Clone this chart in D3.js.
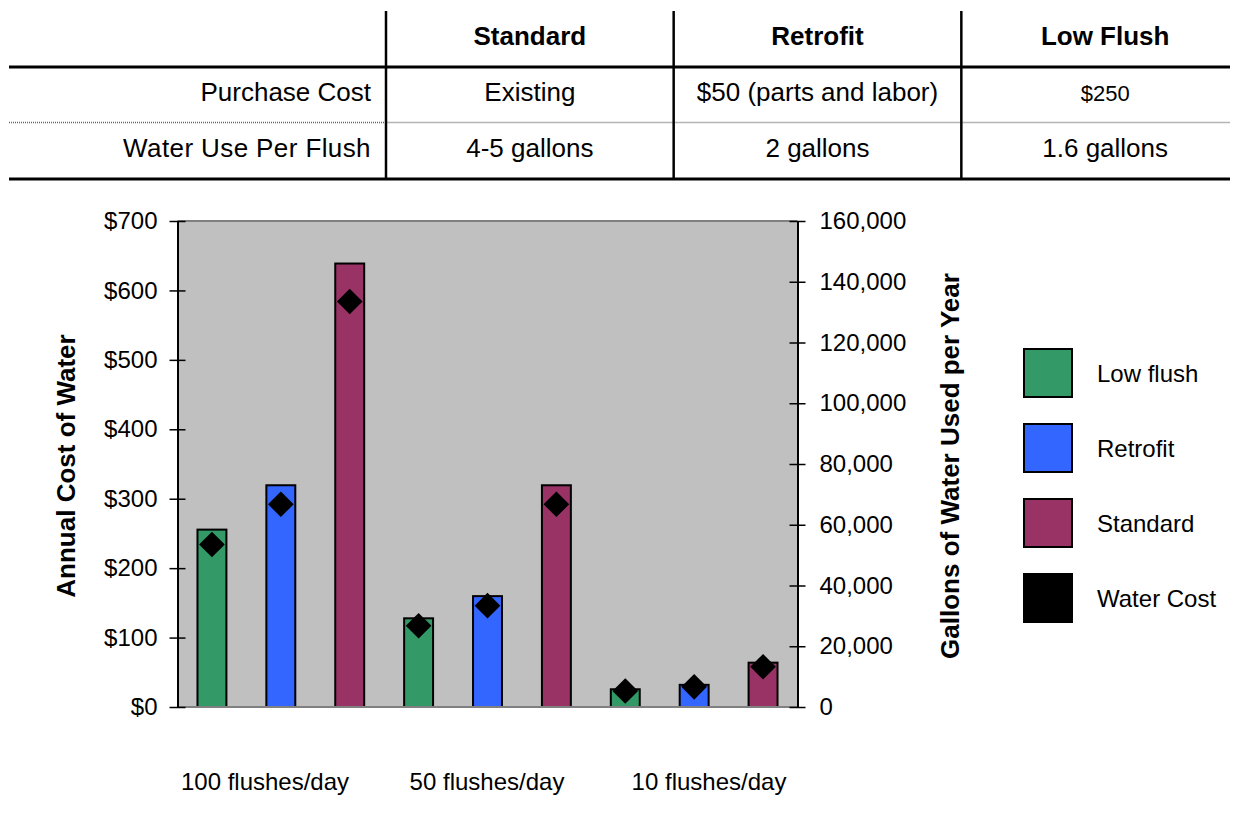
<!DOCTYPE html>
<meta charset="utf-8">
<style>
body { margin: 0; background: #fff; }
text { font-family: "Liberation Sans", Arial, sans-serif; fill: #000; }
.tbl { font-size: 26px; }
.hdr { font-size: 26px; font-weight: bold; }
.tick text { font-size: 24px; font-family: "Liberation Sans", Arial, sans-serif; }
.atitle { font-size: 26px; font-weight: bold; }
.cat, .leg { font-size: 24px; }
</style>
<svg width="1239" height="814"></svg>
<script src="https://d3js.org/d3.v7.min.js"></script>
<script>
// table
var tableCols = ["Standard", "Retrofit", "Low Flush"];
var rowLabels = ["Purchase Cost", "Water Use Per Flush"];
var purchaseCost = ["Existing", "$50 (parts and labor)", "$250"];
var waterPerFlush = ["4-5 gallons", "2 gallons", "1.6 gallons"];

// chart
var categories = ["100 flushes/day", "50 flushes/day", "10 flushes/day"];
var series = ["Low flush", "Retrofit", "Standard"];
var colors = ["#339966", "#3366ff", "#993366"];
// gallons of water used per year (bars, right axis)
var lowFlushGallons = [58400, 29200, 5840];
var retrofitGallons = [73000, 36500, 7300];
var standardGallons = [146000, 73000, 14600];
// annual water cost (diamonds, left axis)
var lowFlushCost = [234, 117, 23];
var retrofitCost = [292, 146, 29];
var standardCost = [584, 292, 58];
var leftTicks = [0, 100, 200, 300, 400, 500, 600, 700];
var rightTicks = [0, 20000, 40000, 60000, 80000, 100000, 120000, 140000, 160000];

var gallons = [lowFlushGallons, retrofitGallons, standardGallons];
var costs = [lowFlushCost, retrofitCost, standardCost];

var svg = d3.select("svg");

// ---------- table ----------
var colX = d3.scaleBand().domain(tableCols).range([386, 1249]);
var tbl = svg.append("g");

tbl.append("line").attr("x1", 9).attr("x2", 1230).attr("y1", 67).attr("y2", 67)
  .attr("stroke", "#000").attr("stroke-width", 3);
tbl.append("line").attr("x1", 9).attr("x2", 1230).attr("y1", 179).attr("y2", 179)
  .attr("stroke", "#000").attr("stroke-width", 3);
tbl.append("line").attr("x1", 9).attr("x2", 386).attr("y1", 122.5).attr("y2", 122.5)
  .attr("stroke", "#666").attr("stroke-width", 1.5).attr("stroke-dasharray", "1,1");
tbl.append("line").attr("x1", 386).attr("x2", 1230).attr("y1", 122.5).attr("y2", 122.5)
  .attr("stroke", "#b4b4b4").attr("stroke-width", 1.5);

tbl.selectAll(".vline")
  .data(tableCols)
  .enter().append("line")
  .attr("x1", function(d) { return colX(d); })
  .attr("x2", function(d) { return colX(d); })
  .attr("y1", 11).attr("y2", 179)
  .attr("stroke", "#000").attr("stroke-width", 2.5);

tbl.selectAll(".hdr")
  .data(tableCols)
  .enter().append("text")
  .attr("class", "hdr")
  .attr("text-anchor", "middle")
  .attr("x", function(d) { return colX(d) + colX.bandwidth() / 2; })
  .attr("y", 45)
  .text(function(d) { return d; });

var rowY = [101, 157];
tbl.selectAll(".rlab")
  .data(rowLabels)
  .enter().append("text")
  .attr("class", "tbl")
  .attr("text-anchor", "end")
  .attr("x", 371)
  .attr("y", function(d, i) { return rowY[i]; })
  .style("letter-spacing", function(d, i) { return i == 1 ? "0.4px" : null; })
  .text(function(d) { return d; });

[purchaseCost, waterPerFlush].forEach(function(row, r) {
  tbl.selectAll(".cell" + r)
    .data(row)
    .enter().append("text")
    .attr("class", "tbl")
    .attr("text-anchor", "middle")
    .style("font-size", function(d) { return d == "$250" ? "22px" : null; })
    .attr("x", function(d, i) { return colX(tableCols[i]) + colX.bandwidth() / 2; })
    .attr("y", rowY[r])
    .text(function(d) { return d; });
});

// ---------- chart ----------
var pLeft = 177.5, pRight = 797.5, pTop = 221, pBottom = 707;

var x0 = d3.scaleBand().domain(categories).range([pLeft, pRight]);
var x1 = d3.scaleBand().domain(series).range([0, x0.bandwidth()])
  .paddingInner(0.58).paddingOuter(0.29);
var yCost = d3.scaleLinear().domain([0, 700]).range([pBottom, pTop]);
var yGal = d3.scaleLinear().domain([0, 160000]).range([pBottom, pTop]);

svg.append("rect")
  .attr("x", pLeft).attr("y", pTop)
  .attr("width", pRight - pLeft).attr("height", pBottom - pTop)
  .attr("fill", "#c0c0c0");
svg.append("line").attr("x1", pLeft).attr("x2", pRight).attr("y1", pTop).attr("y2", pTop)
  .attr("stroke", "#808080").attr("stroke-width", 2);

var groups = svg.selectAll(".grp")
  .data(categories)
  .enter().append("g")
  .attr("transform", function(d) { return "translate(" + x0(d) + ",0)"; });

groups.selectAll("rect")
  .data(function(d, ci) {
    return series.map(function(s, si) { return { s: s, si: si, v: gallons[si][ci] }; });
  })
  .enter().append("rect")
  .attr("x", function(d) { return x1(d.s); })
  .attr("y", function(d) { return yGal(d.v); })
  .attr("width", x1.bandwidth())
  .attr("height", function(d) { return pBottom - yGal(d.v); })
  .attr("fill", function(d) { return colors[d.si]; })
  .attr("stroke", "#000")
  .attr("stroke-width", 2);

svg.append("line").attr("x1", pLeft).attr("x2", pRight).attr("y1", pBottom).attr("y2", pBottom)
  .attr("stroke", "#808080").attr("stroke-width", 2);

var diamond = d3.symbol().type(d3.symbolDiamond2).size(420);
groups.selectAll("path.dia")
  .data(function(d, ci) {
    return series.map(function(s, si) { return { s: s, v: costs[si][ci] }; });
  })
  .enter().append("path")
  .attr("class", "dia")
  .attr("d", diamond)
  .attr("transform", function(d) {
    return "translate(" + (x1(d.s) + x1.bandwidth() / 2) + "," + yCost(d.v) + ")";
  })
  .attr("fill", "#000");

// axes
var axL = svg.append("g")
  .attr("transform", "translate(" + pLeft + ",0)")
  .call(d3.axisLeft(yCost).tickValues(leftTicks).tickSizeInner(8).tickSizeOuter(0)
    .tickPadding(12).tickFormat(function(d) { return "$" + d; }));
axL.selectAll(".tick line").attr("x1", 8).attr("stroke-width", 1.5);
axL.select(".domain").attr("stroke-width", 2);

var axR = svg.append("g")
  .attr("transform", "translate(" + pRight + ",0)")
  .call(d3.axisRight(yGal).tickValues(rightTicks).tickSizeInner(8).tickSizeOuter(0)
    .tickPadding(14).tickFormat(d3.format(",")));
axR.selectAll(".tick line").attr("x1", -8).attr("stroke-width", 1.5);
axR.select(".domain").attr("stroke-width", 2);

svg.selectAll(".tick text").attr("fill", "#000");

svg.append("text")
  .attr("class", "atitle")
  .attr("text-anchor", "middle")
  .attr("transform", "translate(75," + ((pTop + pBottom) / 2 + 2) + ") rotate(-90)")
  .text("Annual Cost of Water");

svg.append("text")
  .attr("class", "atitle")
  .attr("text-anchor", "middle")
  .attr("transform", "translate(959," + ((pTop + pBottom) / 2 + 2) + ") rotate(-90)")
  .text("Gallons of Water Used per Year");

// category labels
var xLab = d3.scalePoint().domain(categories).range([265, 709]);
svg.selectAll(".cat")
  .data(categories)
  .enter().append("text")
  .attr("class", "cat")
  .attr("text-anchor", "middle")
  .attr("x", function(d) { return xLab(d); })
  .attr("y", 790)
  .text(function(d) { return d; });

// legend
var legItems = series.concat(["Water Cost"]);
var legColors = colors.concat(["#000"]);
var leg = svg.selectAll(".legi")
  .data(legItems)
  .enter().append("g")
  .attr("transform", function(d, i) { return "translate(1024," + (349 + i * 75) + ")"; });
leg.append("rect")
  .attr("width", 48).attr("height", 48)
  .attr("fill", function(d, i) { return legColors[i]; })
  .attr("stroke", "#000").attr("stroke-width", 2);
leg.append("text")
  .attr("class", "leg")
  .attr("x", 73).attr("y", 33)
  .text(function(d) { return d; });
</script>
